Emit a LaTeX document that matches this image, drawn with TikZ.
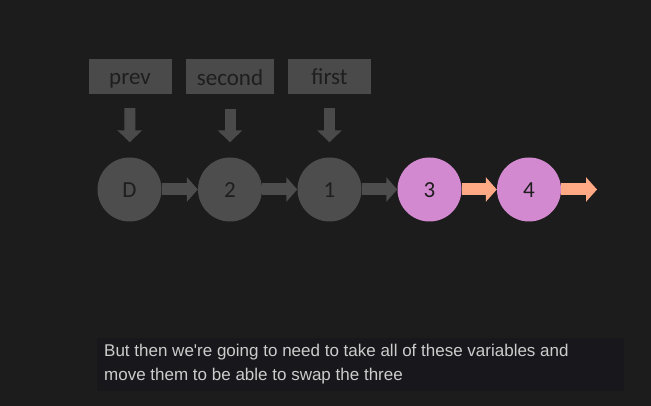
\documentclass[tikz,border=0pt]{standalone}
\usepackage{fontspec}
\setmainfont{Carlito}
\newfontfamily\capfont{Liberation Sans}
\usetikzlibrary{arrows.meta}
\definecolor{bg}{HTML}{1C1C1C}
\definecolor{nodegray}{HTML}{4D4D4D}
\definecolor{boxgray}{HTML}{4A4A4A}
\definecolor{darktext}{HTML}{1E1E1E}
\definecolor{pinknode}{HTML}{D389D0}
\definecolor{orangearrow}{HTML}{FFA985}
\definecolor{capbg}{HTML}{18181C}
\definecolor{captext}{HTML}{CCCCCC}
\tikzset{
  varbox/.style={draw=none, fill=boxgray, minimum width=83pt, minimum height=35pt, inner sep=0pt, text=darktext, text height=17pt, text depth=0pt, font=\fontsize{23}{26}\selectfont},
  listnode/.style={circle, draw=none, fill=nodegray, minimum size=64pt, inner sep=0pt, text=darktext, text height=17pt, text depth=0pt, font=\fontsize{23}{26}\selectfont},
  hotnode/.style={listnode, fill=pinknode},
  linkarrow/.style={draw=nodegray, line width=12pt, -{Triangle[width=24pt,length=11pt]}},
  hotarrow/.style={linkarrow, draw=orangearrow},
  downarrow/.style={draw=boxgray, line width=11pt, -{Triangle[width=24pt,length=12pt]}, shorten <=14pt, shorten >=15pt},
}
\begin{document}
\begin{tikzpicture}[x=1pt, y=-1pt]
\fill[bg] (0,0) rectangle (651,406);
\useasboundingbox (0,0) rectangle (651,406);
% variable boxes
\node[varbox] (prev) at (130,76.5) {prev};
\node[varbox, minimum width=88pt] (second) at (230,77) {second};
\node[varbox] (first) at (329.5,76.5) {first};
% list nodes
\node[listnode] (D) at (129.5,189.5) {D};
\node[listnode] (n2) at (230,189.5) {2};
\node[listnode] (n1) at (329.5,189.5) {1};
\node[hotnode] (n3) at (429.5,189.5) {3};
\node[hotnode] (n4) at (529,189.5) {4};
\coordinate (end) at (597,189.5);
% links
\draw[linkarrow] (D) -- (n2);
\draw[linkarrow] (n2) -- (n1);
\draw[linkarrow] (n1) -- (n3);
\draw[hotarrow] (n3) -- (n4);
\draw[hotarrow] (n4) -- (end);
% pointers
\draw[downarrow] (prev) -- (D);
\draw[downarrow] (second) -- (n2);
\draw[downarrow] (first) -- (n1);
% caption
\node[fill=capbg, minimum width=527pt, minimum height=53pt, inner sep=0pt, anchor=north west] (capbox) at (97,338) {};
\node[anchor=north west, inner sep=0pt, align=left, text=captext, font=\capfont\fontsize{17}{24}\selectfont] (caption) at (104,344) {But then we're going to need to take all of these variables and\\move them to be able to swap the three};
\end{tikzpicture}
\end{document}
